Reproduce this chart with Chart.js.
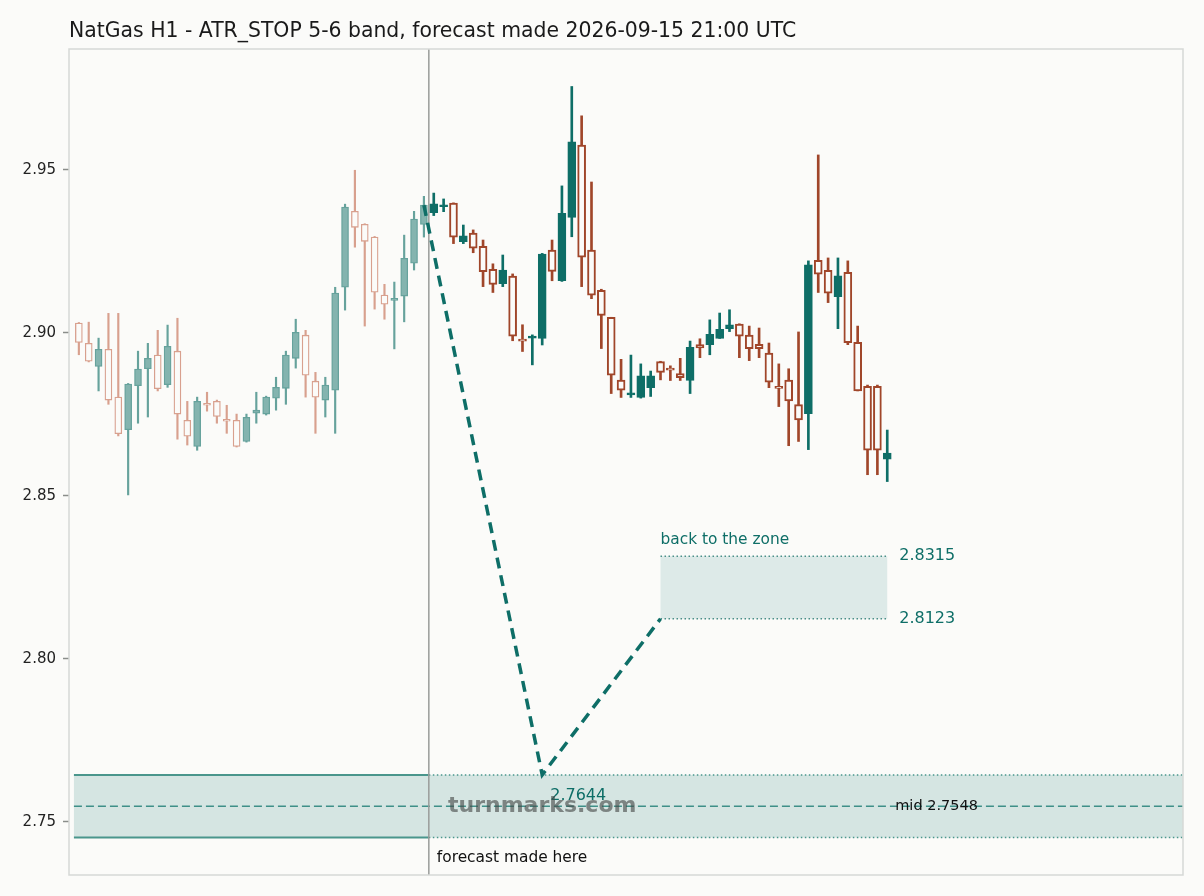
<!DOCTYPE html>
<html>
<head>
<meta charset="utf-8">
<script src="https://cdn.jsdelivr.net/npm/chart.js@4.4.1/dist/chart.umd.min.js"></script>
<style>
  html, body { margin: 0; padding: 0; background: #fbfbf9; }
  canvas { display: block; }
</style>
</head>
<body>
<canvas id="chart" width="1204" height="896"></canvas>
<script>
// hourly candles, first 36 are history, the rest is the forecast
const opens = [
  2.9030, 2.8968, 2.8897, 2.8950, 2.8803, 2.8703, 2.8838, 2.8890, 2.8932, 2.8841,
  2.8944, 2.8732, 2.8652, 2.8784, 2.8790, 2.8732, 2.8732, 2.8667, 2.8754, 2.8751,
  2.8800, 2.8830, 2.8922, 2.8993, 2.8852, 2.8794, 2.8824, 2.9140, 2.9373, 2.9333,
  2.9294, 2.9116, 2.9100, 2.9113, 2.9214, 2.9333,
  2.9369, 2.9387, 2.9398, 2.9280, 2.9306, 2.9266, 2.9195, 2.9151, 2.9174, 2.8979,
  2.8984, 2.8983, 2.9254, 2.9160, 2.9354, 2.9576, 2.9254, 2.9131, 2.9048, 2.8855,
  2.8810, 2.8802, 2.8832, 2.8912, 2.8892, 2.8875, 2.8854, 2.8964, 2.8964, 2.8983,
  2.9013, 2.9027, 2.8993, 2.8965, 2.8938, 2.8836, 2.8855, 2.8780, 2.8752, 2.9223,
  2.9192, 2.9111, 2.9186, 2.8971, 2.8836, 2.8836, 2.8613
];
const highs = [
  2.9032, 2.9033, 2.8984, 2.9060, 2.9060, 2.8845, 2.8944, 2.8968, 2.9008, 2.9024,
  2.9045, 2.8790, 2.8803, 2.8818, 2.8794, 2.8778, 2.8751, 2.8751, 2.8818, 2.8806,
  2.8864, 2.8944, 2.9042, 2.9008, 2.8879, 2.8864, 2.9140, 2.9395, 2.9499, 2.9335,
  2.9296, 2.9149, 2.9156, 2.9300, 2.9373, 2.9419,
  2.9429, 2.9411, 2.9399, 2.9331, 2.9316, 2.9285, 2.9212, 2.9239, 2.9181, 2.9025,
  2.8994, 2.9244, 2.9285, 2.9451, 2.9756, 2.9666, 2.9463, 2.9134, 2.9048, 2.8919,
  2.8932, 2.8905, 2.8883, 2.8913, 2.8899, 2.8922, 2.8975, 2.8982, 2.9040, 2.9061,
  2.9071, 2.9028, 2.9021, 2.9015, 2.8969, 2.8905, 2.8890, 2.9003, 2.9221, 2.9546,
  2.9230, 2.9230, 2.9221, 2.9021, 2.8840, 2.8840, 2.8702
];
const lows = [
  2.8933, 2.8911, 2.8822, 2.8781, 2.8684, 2.8503, 2.8723, 2.8742, 2.8822, 2.8833,
  2.8674, 2.8656, 2.8640, 2.8760, 2.8723, 2.8692, 2.8650, 2.8665, 2.8723, 2.8748,
  2.8763, 2.8781, 2.8892, 2.8803, 2.8692, 2.8742, 2.8692, 2.9070, 2.9263, 2.9021,
  2.9073, 2.9042, 2.8951, 2.9034, 2.9193, 2.9294,
  2.9360, 2.9372, 2.9274, 2.9274, 2.9246, 2.9142, 2.9124, 2.9142, 2.8976, 2.8943,
  2.8902, 2.8963, 2.9160, 2.9158, 2.9295, 2.9142, 2.9105, 2.8952, 2.8814, 2.8802,
  2.8802, 2.8800, 2.8805, 2.8856, 2.8854, 2.8854, 2.8814, 2.8924, 2.8933, 2.8983,
  2.9004, 2.8924, 2.8915, 2.8924, 2.8832, 2.8774, 2.8654, 2.8667, 2.8642, 2.9124,
  2.9093, 2.9013, 2.8964, 2.8822, 2.8565, 2.8565, 2.8544
];
const closes = [
  2.8971, 2.8913, 2.8950, 2.8794, 2.8691, 2.8843, 2.8889, 2.8922, 2.8829, 2.8959,
  2.8751, 2.8683, 2.8790, 2.8778, 2.8744, 2.8729, 2.8652, 2.8741, 2.8763, 2.8803,
  2.8833, 2.8932, 2.9002, 2.8870, 2.8803, 2.8840, 2.9122, 2.9386, 2.9324, 2.9281,
  2.9125, 2.9088, 2.9103, 2.9229, 2.9349, 2.9392,
  2.9396, 2.9392, 2.9294, 2.9298, 2.9260, 2.9188, 2.9149, 2.9193, 2.8990, 2.8975,
  2.8989, 2.9242, 2.9189, 2.9367, 2.9586, 2.9232, 2.9116, 2.9054, 2.8870, 2.8824,
  2.8816, 2.8868, 2.8868, 2.8879, 2.8886, 2.8863, 2.8956, 2.8954, 2.8996, 2.9011,
  2.9025, 2.8990, 2.8952, 2.8952, 2.8849, 2.8830, 2.8791, 2.8733, 2.9209, 2.9180,
  2.9122, 2.9175, 2.8970, 2.8822, 2.8640, 2.8640, 2.8631
];
const firstForecast = 36;
const forecastAt = 35.5;

// projected path: last close -> band touch -> back to the zone
const pathX = [35, 47, 59];
const pathY = [2.9392, 2.7644, 2.8123];

const bandLow = 2.7452, bandMid = 2.7548, bandHigh = 2.7644;
const zoneLow = 2.8123, zoneHigh = 2.8315;
const zoneFrom = 59, zoneTo = 82;

const yTicks = [2.75, 2.80, 2.85, 2.90, 2.95];

const BG = '#fbfbf9';
const TEAL = '#0e6e67';
const RUST = '#a0462a';
const TEAL_FADED = '#84b4af';
const TEAL_FADED_EDGE = '#66a29c';
const RUST_FADED = '#d8a08e';
const FONT = 'DejaVu Sans';

const idx = opens.map((_, i) => i);
const hist = idx.filter(i => i < firstForecast);
const fc = idx.filter(i => i >= firstForecast);
const up = i => closes[i] >= opens[i];

function bodies(list, fill, edge, bear, width, bw) {
  return {
    type: 'bar',
    data: list.map(i => ({ x: i, y: [opens[i], closes[i]] })),
    backgroundColor: list.map(i => up(i) ? fill : BG),
    borderColor: list.map(i => up(i) ? edge : bear),
    borderWidth: bw,
    borderSkipped: false,
    barThickness: width,
    minBarLength: 2,
    grouped: false
  };
}
function wicks(list, bull, bear, width) {
  return {
    type: 'bar',
    data: list.map(i => ({ x: i, y: [lows[i], highs[i]] })),
    backgroundColor: list.map(i => up(i) ? bull : bear),
    borderWidth: 0,
    barThickness: width,
    grouped: false
  };
}

function hline(ctx, x0, x1, y) {
  ctx.beginPath();
  ctx.moveTo(x0, y);
  ctx.lineTo(x1, y);
  ctx.stroke();
}

const overlay = {
  id: 'overlay',
  beforeDatasetsDraw(chart) {
    const { ctx, chartArea: a, scales: { x, y } } = chart;
    ctx.save();
    const bx0 = x.getPixelForValue(-0.5);
    const bxF = x.getPixelForValue(forecastAt);
    const yHi = y.getPixelForValue(bandHigh);
    const yLo = y.getPixelForValue(bandLow);
    const yMid = y.getPixelForValue(bandMid);

    // ATR band
    ctx.fillStyle = '#d5e5e2';
    ctx.fillRect(bx0, yHi, a.right - bx0, yLo - yHi);
    ctx.strokeStyle = '#4a968c';
    ctx.lineWidth = 2;
    hline(ctx, bx0, bxF, yHi);
    hline(ctx, bx0, bxF, yLo);
    ctx.lineWidth = 1.5;
    ctx.setLineDash([1.5, 2.5]);
    hline(ctx, bxF, a.right, yHi);
    hline(ctx, bxF, a.right, yLo);
    ctx.strokeStyle = '#3f9088';
    ctx.setLineDash([8, 4]);
    hline(ctx, bx0, a.right, yMid);

    // target zone
    const zx0 = x.getPixelForValue(zoneFrom);
    const zx1 = x.getPixelForValue(zoneTo);
    const zHi = y.getPixelForValue(zoneHigh);
    const zLo = y.getPixelForValue(zoneLow);
    ctx.fillStyle = '#ddeae8';
    ctx.fillRect(zx0, zHi, zx1 - zx0, zLo - zHi);
    ctx.strokeStyle = '#4a8f88';
    ctx.setLineDash([1.5, 2.5]);
    hline(ctx, zx0, zx1, zHi);
    hline(ctx, zx0, zx1, zLo);

    // forecast marker
    ctx.setLineDash([]);
    ctx.strokeStyle = '#999c99';
    ctx.lineWidth = 1.5;
    ctx.beginPath();
    ctx.moveTo(bxF, a.top);
    ctx.lineTo(bxF, a.bottom);
    ctx.stroke();
    ctx.restore();
  },
  afterDatasetsDraw(chart) {
    const { ctx, chartArea: a, scales: { x, y } } = chart;
    ctx.save();
    ctx.textBaseline = 'middle';
    ctx.textAlign = 'left';

    ctx.fillStyle = TEAL;
    ctx.font = `15.4px "${FONT}"`;
    ctx.fillText('back to the zone', x.getPixelForValue(zoneFrom), y.getPixelForValue(zoneHigh) - 16);
    ctx.font = `16px "${FONT}"`;
    ctx.fillText(zoneHigh.toFixed(4), x.getPixelForValue(zoneTo) + 12, y.getPixelForValue(zoneHigh));
    ctx.fillText(zoneLow.toFixed(4), x.getPixelForValue(zoneTo) + 12, y.getPixelForValue(zoneLow));
    ctx.fillText(pathY[1].toFixed(4), x.getPixelForValue(pathX[1]) + 8, y.getPixelForValue(pathY[1]) + 21);

    ctx.fillStyle = '#111';
    ctx.font = `14.5px "${FONT}"`;
    ctx.fillText('mid ' + bandMid.toFixed(4), x.getPixelForValue(zoneTo) + 8, y.getPixelForValue(bandMid));
    ctx.font = `15.4px "${FONT}"`;
    ctx.fillText('forecast made here', x.getPixelForValue(forecastAt) + 8, a.bottom - 17);

    ctx.fillStyle = 'rgba(70, 72, 71, 0.62)';
    ctx.font = `bold 22px "${FONT}"`;
    ctx.textAlign = 'center';
    ctx.fillText('turnmarks.com', x.getPixelForValue(pathX[1]), y.getPixelForValue(bandMid));

    // title
    ctx.textAlign = 'left';
    ctx.fillStyle = '#1a1a1a';
    ctx.font = `20.4px "${FONT}"`;
    ctx.fillText('NatGas H1 - ATR_STOP 5-6 band, forecast made 2026-09-15 21:00 UTC', a.left, 32);

    // frame
    ctx.strokeStyle = '#d6d9d6';
    ctx.lineWidth = 1.5;
    ctx.strokeRect(a.left, a.top, a.right - a.left, a.bottom - a.top);
    ctx.restore();
  }
};

const ctx = document.getElementById('chart').getContext('2d');
const chart = new Chart(ctx, {
  type: 'bar',
  data: {
    datasets: [
      {
        type: 'line',
        data: pathX.map((v, i) => ({ x: v, y: pathY[i] })),
        borderColor: TEAL,
        borderWidth: 3.5,
        borderDash: [11, 7],
        pointRadius: 0,
        fill: false,
        tension: 0
      },
      bodies(fc, TEAL, TEAL, RUST, 8, 2),
      bodies(hist, TEAL_FADED, TEAL_FADED_EDGE, RUST_FADED, 7, 1.3),
      wicks(fc, TEAL, RUST, 2),
      wicks(hist, TEAL_FADED_EDGE, RUST_FADED, 1.5)
    ]
  },
  options: {
    responsive: false,
    animation: false,
    devicePixelRatio: 1,
    layout: { padding: { left: 0, top: 49, right: 21, bottom: 21 } },
    plugins: {
      legend: { display: false },
      tooltip: { enabled: false }
    },
    scales: {
      x: {
        type: 'linear',
        min: -1,
        max: 112,
        offset: false,
        display: false
      },
      y: {
        type: 'linear',
        min: 2.7337,
        max: 2.9871,
        afterFit: scale => { scale.width = 69; },
        afterBuildTicks: axis => { axis.ticks = yTicks.map(v => ({ value: v })); },
        ticks: {
          color: '#222',
          font: { family: FONT, size: 15 },
          padding: 7,
          callback: v => v.toFixed(2)
        },
        grid: {
          drawOnChartArea: false,
          drawTicks: true,
          tickLength: 6,
          tickWidth: 1.5,
          tickColor: '#8a8d8a'
        },
        border: { display: false }
      }
    }
  },
  plugins: [overlay]
});
</script>
</body>
</html>
